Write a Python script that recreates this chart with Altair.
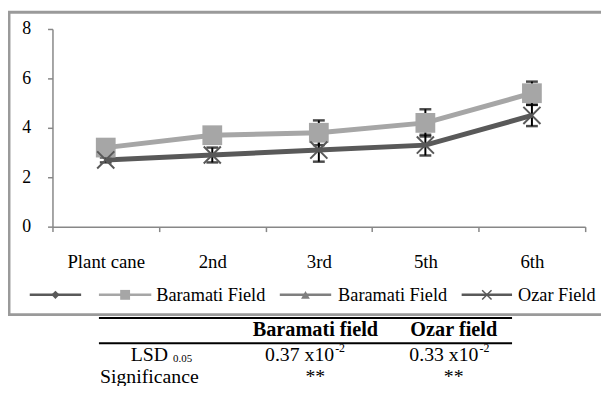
import altair as alt
import pandas as pd

# ---------------- data ----------------
cats = ["Plant cane", "2nd", "3rd", "5th", "6th"]
baramati = [3.2, 3.7, 3.8, 4.2, 5.4]
baramati_err = [0.2, 0.25, 0.5, 0.55, 0.47]
ozar = [2.7, 2.9, 3.1, 3.3, 4.5]
ozar_err = [0.1, 0.3, 0.47, 0.42, 0.43]
y_ticks = [0, 2, 4, 6, 8]

legend_labels = ["", "Baramati Field", "Baramati Field", "Ozar Field"]
table_header = ["Baramati field", "Ozar field"]
lsd_label = "LSD"
lsd_sub = "0.05"
lsd_values = ["0.37 x10", "0.33 x10"]
lsd_exp = "-2"
sig_label = "Significance"
significance = ["**", "**"]

# ---------------- styles ----------------
FONT = "Liberation Serif"
LIGHT = "#a6a6a6"
DARK = "#595959"
MID = "#7f7f7f"
AXIS_GRAY = "#878787"

rows = []
for c, v, e in zip(cats, baramati, baramati_err):
    rows.append({"cat": c, "val": v, "lo": v - e, "hi": v + e, "series": "Baramati"})
for c, v, e in zip(cats, ozar, ozar_err):
    rows.append({"cat": c, "val": v, "lo": v - e, "hi": v + e, "series": "Ozar"})
df = pd.DataFrame(rows)

xscale = alt.Scale(type="band", domain=cats, paddingInner=0, paddingOuter=0)
yscale = alt.Scale(domain=[0, 8], nice=False, zero=True)

xaxis = alt.Axis(
    title=None, tickBand="extent", labelAngle=0, labelAlign="center", labelBaseline="top",
    domainColor=AXIS_GRAY, domainWidth=1.5,
    tickColor=AXIS_GRAY, tickWidth=1.5, tickSize=5, labelFont=FONT, labelFontSize=19,
    labelColor="black", labelPadding=21, grid=False,
)
yaxis = alt.Axis(
    title=None, values=y_ticks, domainColor=AXIS_GRAY, domainWidth=1.5, tickColor=AXIS_GRAY,
    tickWidth=1.5, tickSize=5, labelFont=FONT, labelFontSize=18, labelColor="black",
    labelPadding=17, grid=False,
)

X = alt.X("cat:N", sort=cats, scale=xscale, axis=xaxis, bandPosition=0.5)
Xn = alt.X("cat:N", sort=cats, scale=xscale, bandPosition=0.5)
Y = alt.Y("val:Q", scale=yscale, axis=yaxis)

base = alt.Chart(df)
bar_b = base.transform_filter(alt.datum.series == "Baramati")
bar_o = base.transform_filter(alt.datum.series == "Ozar")

layers = []

# chart frame
frame = alt.Chart(pd.DataFrame({"a": [0]})).mark_rect(
    fillOpacity=0, stroke="#9a9a9a", strokeWidth=3
).encode(x=alt.value(-44), x2=alt.value(570), y=alt.value(-17), y2=alt.value(289))
layers.append(frame)

# error bars
for b in (bar_b, bar_o):
    layers.append(b.mark_rule(color="black", strokeWidth=2).encode(
        x=Xn, y=alt.Y("lo:Q", scale=yscale), y2="hi:Q"))
    layers.append(b.mark_tick(color="black", thickness=2.5, size=12).encode(
        x=Xn, y=alt.Y("lo:Q", scale=yscale)))
    layers.append(b.mark_tick(color="black", thickness=2.5, size=12).encode(
        x=Xn, y=alt.Y("hi:Q", scale=yscale)))

# lines
layers.append(bar_b.mark_line(color=LIGHT, strokeWidth=5).encode(x=X, y=Y))
layers.append(bar_o.mark_line(color=DARK, strokeWidth=5).encode(x=Xn, y=alt.Y("val:Q", scale=yscale)))

# markers
layers.append(bar_b.mark_point(shape="square", filled=True, size=400, color=LIGHT, opacity=1).encode(
    x=Xn, y=alt.Y("val:Q", scale=yscale)))
layers.append(bar_o.mark_point(shape="M-1,-1L1,1M-1,1L1,-1", filled=False, size=300, color=DARK,
                               strokeWidth=2, opacity=1).encode(
    x=Xn, y=alt.Y("val:Q", scale=yscale)))

# ---------------- legend ----------------
LEG_Y = 269
leg_line_x1 = [-23, 47, 230, 414]
leg_line_x2 = [29, 100, 282, 465]
leg_label_x = [None, 105, 289, 471]
leg_colors = [DARK, LIGHT, MID, DARK]
leg_shapes = ["diamond", "square", "triangle-up", "M-1,-1L1,1M-1,1L1,-1"]
leg_sizes = [70, 100, 80, 90]
for i, lab in enumerate(legend_labels):
    one = alt.Chart(pd.DataFrame({"t": [lab]}))
    layers.append(one.mark_rule(color=leg_colors[i], strokeWidth=2.5).encode(
        x=alt.value(leg_line_x1[i]), x2=alt.value(leg_line_x2[i]), y=alt.value(LEG_Y)))
    filled = not leg_shapes[i].startswith("M")
    layers.append(one.mark_point(shape=leg_shapes[i], filled=filled, size=leg_sizes[i],
                                 color=leg_colors[i], opacity=1, strokeWidth=1.5).encode(
        x=alt.value((leg_line_x1[i] + leg_line_x2[i]) / 2), y=alt.value(LEG_Y)))
    if lab:
        layers.append(one.mark_text(font=FONT, fontSize=18.5, align="left", baseline="middle",
                                    color="black").encode(
            text="t:N", x=alt.value(leg_label_x[i]), y=alt.value(LEG_Y)))

# ---------------- table ----------------
for ty in (292.5, 318):
    layers.append(alt.Chart(pd.DataFrame({"a": [0]})).mark_rule(color="black", strokeWidth=2).encode(
        x=alt.value(47), x2=alt.value(465), y=alt.value(ty)))


def txt(s, x, y, size=20, align="center", weight="normal"):
    return alt.Chart(pd.DataFrame({"t": [s]})).mark_text(
        font=FONT, fontSize=size, align=align, baseline="alphabetic", color="black",
        fontWeight=weight).encode(text="t:N", x=alt.value(x), y=alt.value(y))


col_x = [266, 406]
for s, cx in zip(table_header, col_x):
    layers.append(txt(s, cx, 311, size=20.5, weight="bold"))
layers.append(txt(lsd_label, 117, 336, align="right"))
layers.append(txt(lsd_sub, 122, 337, size=11, align="left"))
val_right = [285, 431]
for s, xr in zip(lsd_values, val_right):
    layers.append(txt(s, xr, 336, align="right"))
    layers.append(txt(lsd_exp, xr + 1, 327, size=12, align="left"))
layers.append(txt(sig_label, 98, 358))
for s, cx in zip(significance, [266, 406]):
    layers.append(txt(s, cx, 358))

chart = alt.layer(*layers).properties(
    width=539, height=200,
    padding={"left": 45, "top": 19, "right": 16, "bottom": 159},
    autosize=alt.AutoSizeParams(type="none"),
    background="white",
).configure_view(stroke=None)

chart.save("out.html", embed_options={"renderer": "svg", "actions": False})
